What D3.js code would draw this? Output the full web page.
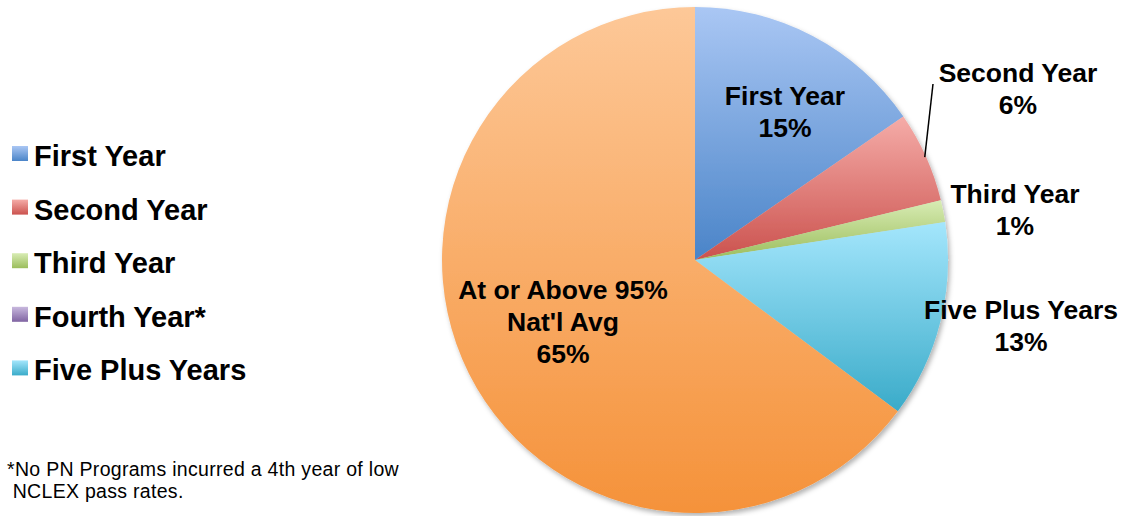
<!DOCTYPE html>
<html>
<head>
<meta charset="utf-8">
<script src="https://cdn.jsdelivr.net/npm/d3@7"></script>
<style>
  body { margin: 0; background: #fff; }
  svg { font-family: "Liberation Sans", Arial, sans-serif; }
</style>
</head>
<body>
<div id="chart"></div>
<script>
// data (share of programs, percent)
const categories = ['First Year', 'Second Year', 'Third Year', 'Fourth Year*', 'Five Plus Years', 'At or Above 95%\nNat\'l Avg'];
const values = [15.4, 5.8, 1.4, 0, 12.6, 64.8];
const topColors = ['#aac7f4', '#f5aca8', '#d8ecb4', '#c8b8de', '#a4e6fc', '#fdc898'];
const bottomColors = ['#4a84c8', '#cb524e', '#9bbd5c', '#8064a2', '#3aabc9', '#f5923a'];
const legendItems = [0, 1, 2, 3, 4];
const footnote = ['*No PN Programs incurred a 4th year of low', ' NCLEX pass rates.'];

// label placement (offset from pie centre) per slice
const labelOffset = [[90, -155], [323, -178], [320, -57], null, [326, 59], [-132, 39]];

const W = 1125, H = 516;
const cx = 695, cy = 260, r = 253;

const svg = d3.select('#chart').append('svg')
  .attr('width', W)
  .attr('height', H);

const defs = svg.append('defs');

categories.forEach((c, i) => {
  const g = defs.append('linearGradient')
    .attr('id', 'grad' + i)
    .attr('x1', 0).attr('y1', 0).attr('x2', 0).attr('y2', 1);
  g.append('stop').attr('offset', '0%').attr('stop-color', topColors[i]);
  g.append('stop').attr('offset', '100%').attr('stop-color', bottomColors[i]);
});

const shadow = defs.append('filter')
  .attr('id', 'shadow')
  .attr('x', '-10%').attr('y', '-10%').attr('width', '120%').attr('height', '120%');
shadow.append('feDropShadow')
  .attr('dx', 2).attr('dy', 3)
  .attr('stdDeviation', 2.5)
  .attr('flood-color', '#000')
  .attr('flood-opacity', 0.3);

// PIE
const pie = d3.pie().sort(null).value(d => d)(values);
const arc = d3.arc().innerRadius(0).outerRadius(r);

const pieG = svg.append('g')
  .attr('transform', `translate(${cx}, ${cy})`)
  .attr('filter', 'url(#shadow)');

pieG.selectAll('path')
  .data(pie.filter(p => p.value > 0))
  .enter()
  .append('path')
  .attr('d', arc)
  .attr('fill', p => `url(#grad${p.index})`);

// labels
const labelG = svg.append('g')
  .attr('transform', `translate(${cx}, ${cy})`);

pie.forEach((p, i) => {
  if (!labelOffset[i]) return;
  const lines = categories[i].split('\n').concat([Math.round(values[i]) + '%']);
  const t = labelG.append('text')
    .attr('x', labelOffset[i][0])
    .attr('y', labelOffset[i][1])
    .attr('text-anchor', 'middle')
    .attr('font-size', 26.5)
    .attr('font-weight', 'bold')
    .attr('fill', '#000');
  lines.forEach((l, j) => {
    t.append('tspan')
      .attr('x', labelOffset[i][0])
      .attr('dy', j === 0 ? 0 : 32)
      .text(l);
  });
});

// leader line for Second Year
const mid = (pie[1].startAngle + pie[1].endAngle) / 2;
const edge = [Math.sin(mid) * r * 0.995, -Math.cos(mid) * r * 0.995];
labelG.append('line')
  .attr('x1', edge[0]).attr('y1', edge[1])
  .attr('x2', labelOffset[1][0] - 85).attr('y2', labelOffset[1][1] + 2)
  .attr('stroke', '#000')
  .attr('stroke-width', 1.5);

// LEGEND
const legend = svg.append('g');
const legRow = legend.selectAll('g')
  .data(legendItems)
  .enter()
  .append('g')
  .attr('transform', (d, k) => `translate(12, ${166 + k * 53.6})`);

legRow.append('rect')
  .attr('x', 0).attr('y', -20)
  .attr('width', 16).attr('height', 15)
  .attr('fill', d => `url(#grad${d})`);

legRow.append('text')
  .attr('x', 22).attr('y', 0)
  .attr('font-size', 29)
  .attr('font-weight', 'bold')
  .text(d => categories[d]);

// footnote
svg.append('g').selectAll('text')
  .data(footnote)
  .enter()
  .append('text')
  .attr('x', 7)
  .attr('y', (d, i) => 475.5 + i * 22.5)
  .attr('font-size', 19.5)
  .attr('letter-spacing', 0.3)
  .attr('fill', '#000')
  .attr('xml:space', 'preserve')
  .style('white-space', 'pre')
  .text(d => d);
</script>
</body>
</html>
